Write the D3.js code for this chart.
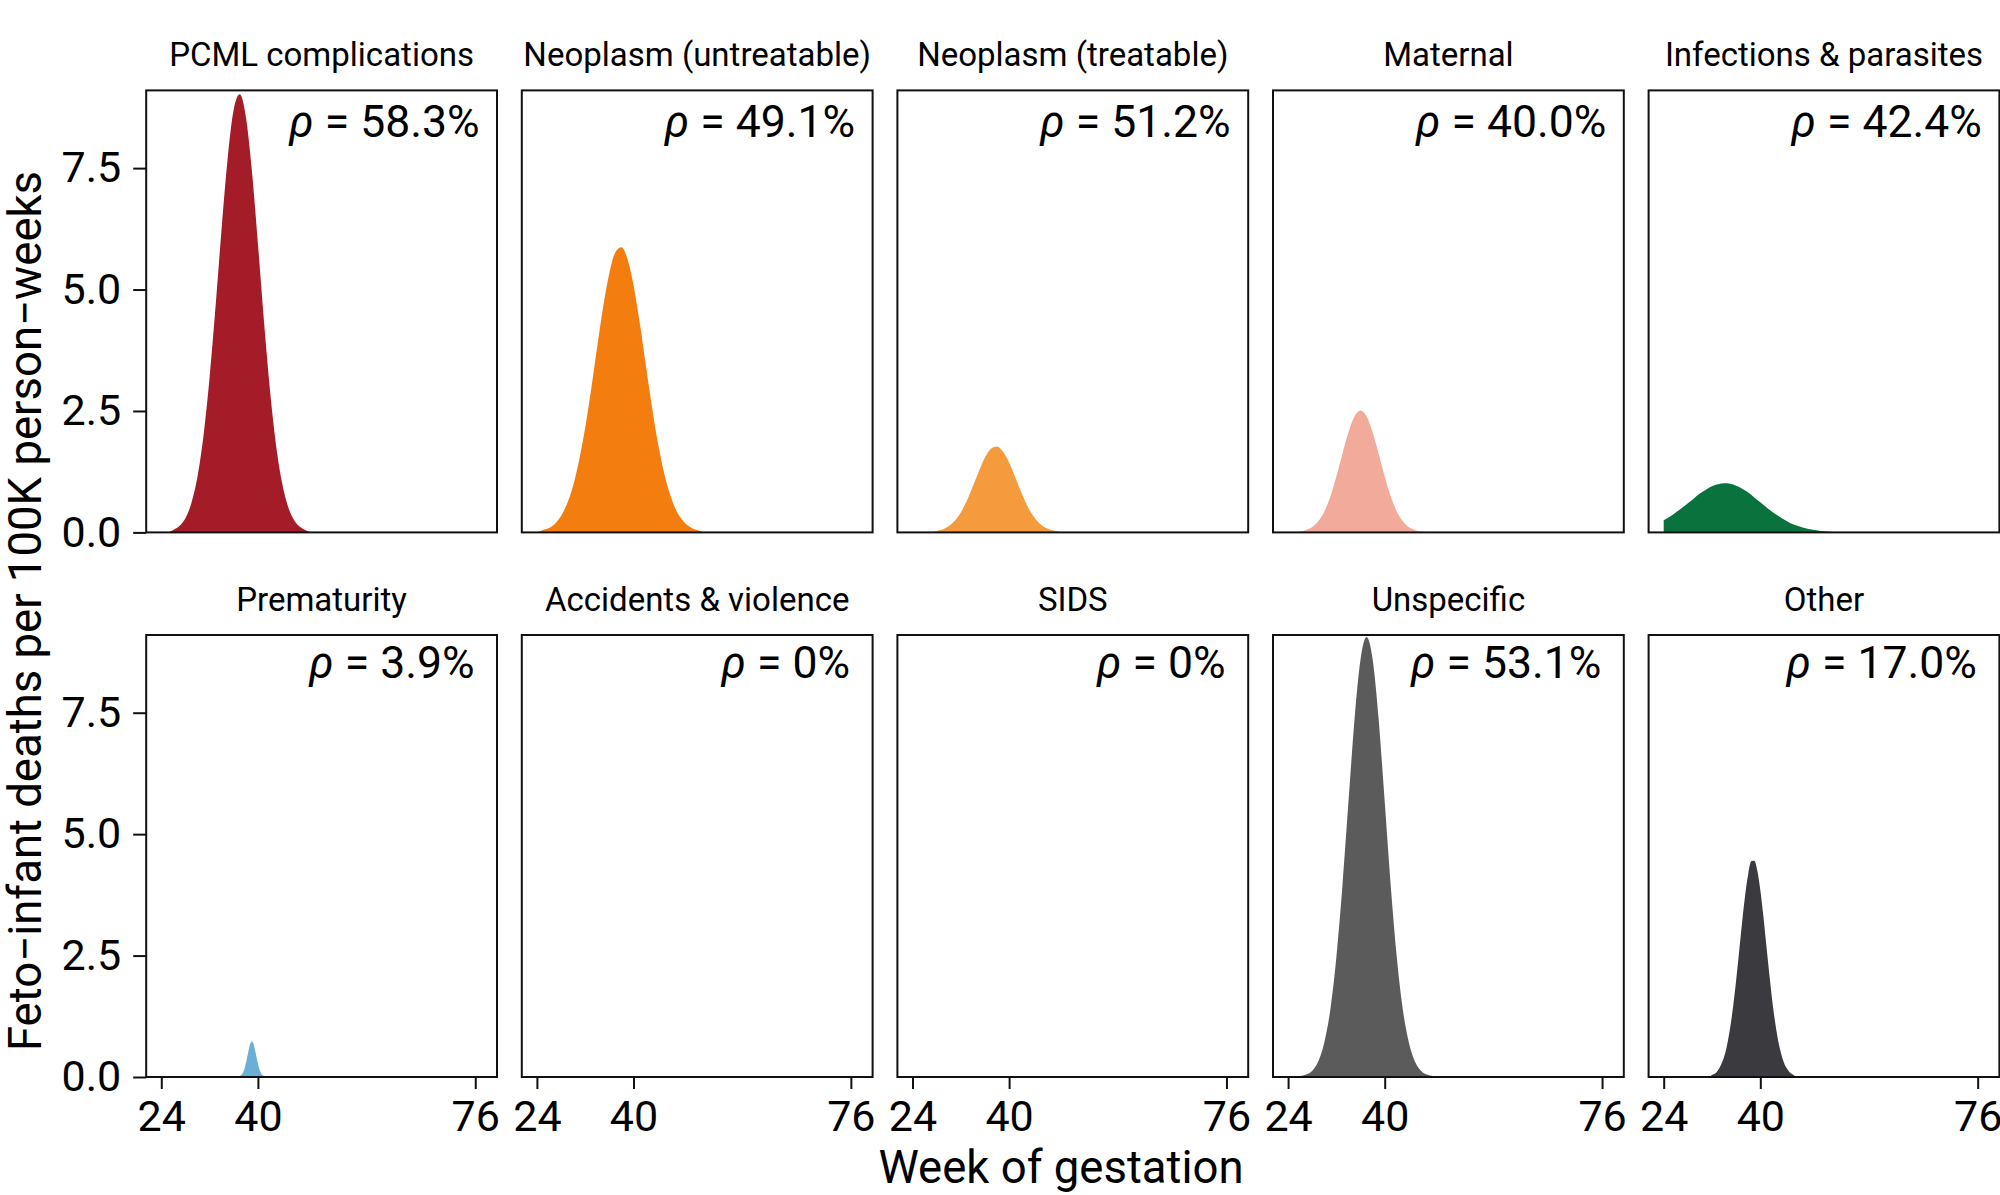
<!DOCTYPE html>
<html><head><meta charset="utf-8">
<script src="https://cdn.jsdelivr.net/npm/d3@7"></script>
<style>
html,body{margin:0;padding:0;background:#fff;}
svg{display:block;}
text{font-family:Roboto,"Noto Sans",sans-serif;fill:#000;}
</style></head><body>
<svg id="chart" width="2000" height="1195"></svg>
<script>
// ---------------- data ----------------
const categories = ["PCML complications","Neoplasm (untreatable)","Neoplasm (treatable)","Maternal","Infections & parasites",
                    "Prematurity","Accidents & violence","SIDS","Unspecific","Other"];
const rhoValues = ["58.3%","49.1%","51.2%","40.0%","42.4%","3.9%","0%","0%","53.1%","17.0%"];
const fillColors = ["#a31c28","#f47d0f","#f69a3e","#f2aa9a","#0a723d","#6baed6","#cccccc","#cccccc","#5b5b5b","#3a3a3f"];
const weekTicks = [24, 40, 76];
const rateTicks = [0, 2.5, 5, 7.5];
const weekDomain = [21.5, 79.6];
const rateDomain = [0, 9.1];

// [week of gestation, deaths per 100K person-weeks]
const pcml = [[24,0],[25,0],[26,0.05],[27,0.13],[28,0.29],[29,0.61],[30,1.15],[31,2.00],[32,3.19],[33,4.67],[34,6.27],
  [35,7.71],[36,8.71],[37,9.02],[38,8.56],[39,7.45],[40,5.95],[41,4.36],[42,2.93],[43,1.80],[44,1.02],[45,0.53],
  [46,0.25],[47,0.11],[48,0.04],[49,0],[76,0]];
const neoUntreatable = [[24,0],[25,0.05],[26,0.09],[27,0.18],[28,0.34],[29,0.59],[30,0.96],[31,1.49],[32,2.16],[33,2.96],
  [34,3.83],[35,4.66],[36,5.34],[37,5.77],[38,5.87],[39,5.63],[40,5.09],[41,4.34],[42,3.48],[43,2.63],[44,1.87],
  [45,1.26],[46,0.80],[47,0.47],[48,0.27],[49,0.14],[50,0.07],[51,0.03],[52,0],[76,0]];
const neoTreatable = [[24,0],[27,0],[28,0.03],[29,0.06],[30,0.13],[31,0.24],[32,0.41],[33,0.65],[34,0.95],[35,1.26],
  [36,1.54],[37,1.72],[38,1.77],[39,1.66],[40,1.44],[41,1.14],[42,0.83],[43,0.55],[44,0.34],[45,0.19],[46,0.10],
  [47,0.05],[48,0.02],[49,0],[76,0]];
const maternal = [[24,0],[25,0.01],[26,0.02],[27,0.05],[28,0.11],[29,0.23],[30,0.43],[31,0.74],[32,1.15],[33,1.62],
  [34,2.06],[35,2.39],[36,2.51],[37,2.39],[38,2.06],[39,1.62],[40,1.15],[41,0.74],[42,0.43],[43,0.23],[44,0.11],
  [45,0.05],[46,0.02],[47,0.01],[48,0],[76,0]];
const infections = [[24,0.25],[25,0.32],[26,0.41],[27,0.50],[28,0.60],[29,0.70],[30,0.80],[31,0.88],[32,0.95],[33,0.99],
  [34,1.01],[35,1.00],[36,0.96],[37,0.90],[38,0.82],[39,0.72],[40,0.62],[41,0.52],[42,0.42],[43,0.34],[44,0.26],
  [45,0.19],[46,0.14],[47,0.10],[48,0.07],[49,0.05],[50,0.03],[51,0.02],[52,0.01],[53,0],[76,0]];
const prematurity = [[24,0],[36.5,0],[36.75,0.01],[37,0.02],[37.25,0.04],[37.5,0.08],[37.75,0.16],[38,0.28],[38.25,0.42],
  [38.5,0.57],[38.75,0.69],[39,0.73],[39.25,0.69],[39.5,0.57],[39.75,0.42],[40,0.28],[40.25,0.16],[40.5,0.08],
  [40.75,0.04],[41,0.02],[41.25,0.01],[41.5,0],[76,0]];
const accidents = [];
const sids = [];
const unspecific = [[24,0],[25,0],[26,0.02],[27,0.05],[28,0.13],[29,0.32],[30,0.71],[31,1.39],[32,2.47],[33,3.94],
  [34,5.67],[35,7.36],[36,8.60],[37,9.06],[38,8.60],[39,7.36],[40,5.67],[41,3.94],[42,2.47],[43,1.39],[44,0.71],
  [45,0.32],[46,0.13],[47,0.05],[48,0.02],[49,0],[76,0]];
const other = [[24,0],[31.5,0],[32,0.04],[32.5,0.07],[33,0.14],[33.5,0.25],[34,0.41],[34.5,0.66],[35,1.01],[35.5,1.45],
  [36,1.99],[36.5,2.59],[37,3.20],[37.5,3.75],[38,4.18],[38.5,4.44],[39,4.45],[39.5,4.25],[40,3.85],[40.5,3.32],
  [41,2.71],[41.5,2.11],[42,1.55],[42.5,1.09],[43,0.72],[43.5,0.46],[44,0.27],[44.5,0.16],[45,0.08],[45.5,0.04],
  [46,0],[76,0]];
const seriesList = [pcml, neoUntreatable, neoTreatable, maternal, infections, prematurity, accidents, sids, unspecific, other];

// ---------------- layout ----------------
const svg = d3.select("#chart");
const panelLeft0 = 146.2, panelStep = 375.6, panelW = 350.8;
const rowTops = [90.4, 635.0], panelH = 442;
const nCols = 5;
const rhoInset = [17.5, 22.5], rhoDrop = [47, 42.5];

const fmtRate = d3.format(".1f");
let clipId = 0;

categories.forEach((cat, i) => {
  const row = Math.floor(i / nCols), col = i % nCols;
  const left = panelLeft0 + col * panelStep;
  const top = rowTops[row];
  const x = d3.scaleLinear().domain(weekDomain).range([left, left + panelW]);
  const y = d3.scaleLinear().domain(rateDomain).range([top + panelH, top]);
  const g = svg.append("g");

  const cid = "clip" + (clipId++);
  svg.append("clipPath").attr("id", cid).append("rect")
    .attr("x", left).attr("y", top).attr("width", panelW).attr("height", panelH);

  const area = d3.area()
    .x(d => x(d[0])).y0(y(0)).y1(d => y(d[1]))
    .curve(d3.curveMonotoneX);
  const data = seriesList[i];
  if (data.length) {
    g.append("path").datum(data)
      .attr("clip-path", `url(#${cid})`)
      .attr("d", area)
      .attr("fill", fillColors[i]);
  }

  // panel border
  g.append("rect").attr("x", left).attr("y", top).attr("width", panelW).attr("height", panelH)
    .attr("fill", "none").attr("stroke", "#111").attr("stroke-width", 2);

  // strip title
  g.append("text").attr("x", left + panelW / 2).attr("y", top - 24.4)
    .attr("text-anchor", "middle").style("font-size", "33px").text(cat);

  // rho label
  const t = g.append("text").attr("x", left + panelW - rhoInset[row]).attr("y", top + rhoDrop[row])
    .attr("text-anchor", "end").style("font-size", "44.5px");
  t.append("tspan").style("font-style", "italic").text("\u03C1");
  t.append("tspan").text(" = " + rhoValues[i]);

  // y axis on first column
  if (col === 0) {
    const ay = g.append("g").attr("transform", `translate(${left},0)`)
      .call(d3.axisLeft(y).tickValues(rateTicks).tickFormat(fmtRate).tickSize(13).tickPadding(12));
    ay.select(".domain").remove();
    ay.selectAll(".tick line").attr("stroke", "#111").attr("stroke-width", 2);
    ay.selectAll(".tick text").style("font-size", "43px").attr("fill", "#000")
      .style("font-family", "Roboto, 'Noto Sans', sans-serif");
  }
  // x axis on bottom row
  if (row === 1) {
    const ax = g.append("g").attr("transform", `translate(0,${top + panelH})`)
      .call(d3.axisBottom(x).tickValues(weekTicks).tickFormat(d3.format("d")).tickSize(12).tickPadding(11));
    ax.select(".domain").remove();
    ax.selectAll(".tick line").attr("stroke", "#111").attr("stroke-width", 2);
    ax.selectAll(".tick text").style("font-size", "43px").attr("fill", "#000")
      .style("font-family", "Roboto, 'Noto Sans', sans-serif");
  }
});

// axis titles
svg.append("text").attr("x", 1061).attr("y", 1183).attr("text-anchor", "middle")
  .style("font-size", "45.5px").text("Week of gestation");
svg.append("text").attr("transform", "translate(41,611) rotate(-90)").attr("text-anchor", "middle")
  .style("font-size", "45.5px").text("Feto\u2212infant deaths per 100K person\u2212weeks");
</script>
</body></html>
